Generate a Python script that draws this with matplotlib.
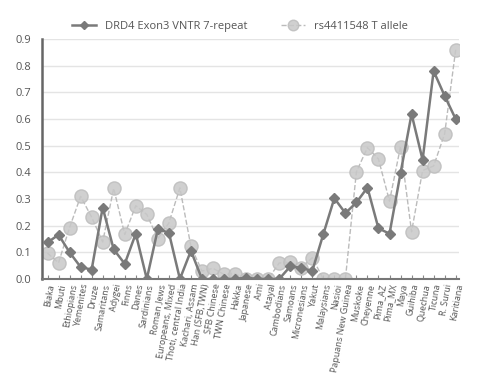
import numpy as np
import matplotlib
matplotlib.use("Agg")
import matplotlib.pyplot as plt

# ── data ────────────────────────────────────────────────────────────────────
populations = ["Biaka", "Mbuti", "Ethiopians", "Yemenites", "Druze", "Samaritans",
               "Adygei", "Finns", "Danes", "Sardinians", "Roman Jews",
               "Europeans, Mixed", "Thoti, central India", "Kachari, Assam",
               "Han (SFB,TWN)", "SFB Chinese", "TWN Chinese", "Hakka", "Japanese",
               "Ami", "Atayal", "Cambodians", "Samoans", "Micronesians", "Yakut",
               "Malaysians", "Nasioi", "Papuans New Guinea", "Muskoke", "Cheyenne",
               "Pima_AZ", "Pima_MX", "Maya", "Guihiba", "Quechua", "Ticuna",
               "R. Surui", "Karitiana"]

drd4_7r = [0.137, 0.166, 0.100, 0.045, 0.035, 0.268, 0.111, 0.057, 0.170, 0.0,
           0.187, 0.174, 0.0, 0.106, 0.0, 0.0, 0.0, 0.0, 0.005,
           0.0, 0.0, 0.0, 0.047, 0.042, 0.030, 0.168, 0.303, 0.247, 0.287,
           0.343, 0.190, 0.170, 0.397, 0.619, 0.447, 0.780, 0.687, 0.600]

rs4411548_t = [0.097, 0.061, 0.193, 0.310, 0.232, 0.139, 0.340, 0.167, 0.275, 0.242,
               0.151, 0.210, 0.342, 0.122, 0.030, 0.040, 0.017, 0.020, 0.0,
               0.0, 0.0, 0.060, 0.062, 0.042, 0.080, 0.0, 0.0, 0.0, 0.402,
               0.493, 0.450, 0.292, 0.497, 0.177, 0.407, 0.424, 0.545, 0.860]

yticks = [0.0, 0.1, 0.2, 0.3, 0.4, 0.5, 0.6, 0.7, 0.8, 0.9]

# ── style ───────────────────────────────────────────────────────────────────
plt.rcParams["font.family"] = ["Open Sans", "DejaVu Sans"]
TEXT = "#555555"
DARK = "#7a7a7a"
LIGHT = "#c8c8c8"

fig = plt.figure(figsize=(5.0, 3.76), dpi=100)
ax = fig.add_axes([0.084, 0.258, 0.834, 0.638])

x = np.arange(len(populations))

ax.plot(x, drd4_7r, "-D", color=DARK, linewidth=1.8, markersize=5.5,
        markeredgecolor=DARK, label="DRD4 Exon3 VNTR 7-repeat", zorder=3)
ax.plot(x, rs4411548_t, "--o", color="#b0b0b0", linewidth=1.0, markersize=9.5,
        markerfacecolor=LIGHT, markeredgecolor="#bdbdbd", alpha=0.85,
        label="rs4411548 T allele", zorder=2)

ax.set_xlim(-0.5, 37.3)
ax.set_ylim(0, 0.9)
ax.set_yticks(yticks)
ax.set_yticklabels([f"{v:.1f}" for v in yticks], fontsize=8, color=TEXT)
ax.yaxis.grid(True, color="#e4e4e4", linewidth=1.0)
ax.set_axisbelow(True)

ax.set_xticks(x)
ax.set_xticklabels(populations, rotation=80, ha="right", rotation_mode="anchor",
                   fontsize=6.5, color=TEXT)
ax.tick_params(axis="x", direction="in", length=3, color="#888888", pad=3)
ax.tick_params(axis="y", length=0, pad=8)

for side in ["top", "right"]:
    ax.spines[side].set_visible(False)
ax.spines["left"].set_color("#666666")
ax.spines["left"].set_linewidth(1.8)
ax.spines["bottom"].set_color("#777777")
ax.spines["bottom"].set_linewidth(1.5)

fig.legend(loc="center", bbox_to_anchor=(0.48, 0.93), ncol=2, frameon=False,
           fontsize=8, labelcolor=TEXT, handlelength=2.2, columnspacing=3.0,
           markerscale=0.8)

fig.savefig("out.png", dpi=100)
